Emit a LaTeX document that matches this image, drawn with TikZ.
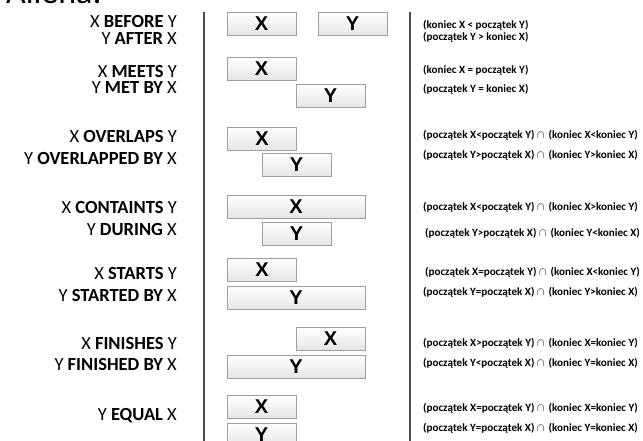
\documentclass[tikz,border=0pt]{standalone}
\usepackage{fontspec}
\setmainfont{Carlito}
\newfontfamily\boxfont{Liberation Sans}
\usepackage{tikz}
\usetikzlibrary{positioning}

\begin{document}
\begin{tikzpicture}[x=1pt, y=-1pt,
   ival/.style={draw=gray!75, line width=0.8pt, top color=white, bottom color=gray!20,
                minimum height=23pt, minimum width=69pt, inner sep=0pt,
                font=\boxfont\bfseries\fontsize{20}{20}\selectfont},
   wide/.style={minimum width=138pt},
   rel/.style={anchor=east, inner sep=0pt, font=\fontsize{18.5}{19}\selectfont},
   cond/.style={anchor=west, inner sep=0pt, font=\bfseries\fontsize{11.1}{12}\selectfont},
   sep/.style={draw=black!70, line width=2pt}]
   \useasboundingbox (0,0) rectangle (643,441);
   \clip (0,0) rectangle (643,441);
   \node[anchor=base west, inner sep=0pt, font=\fontsize{34}{34}\selectfont] (title) at (6,4) {Allena:};

   % separators
   \draw[sep] (204,12) -- (204,441);
   \draw[sep] (410,12) -- (410,441);

   % relation names
   \node[rel] (before)  at (177,21.5) {X \textbf{BEFORE} Y};
   \node[rel] (after)   at (177,38.5) {Y \textbf{AFTER} X};
   \node[rel] (meets)   at (177,71)  {X \textbf{MEETS} Y};
   \node[rel] (metby)   at (177,88)  {Y \textbf{MET BY} X};
   \node[rel] (overl)   at (177,136) {X \textbf{OVERLAPS} Y};
   \node[rel] (overlby) at (177,158) {Y \textbf{OVERLAPPED BY} X};
   \node[rel] (contain) at (177,207) {X \textbf{CONTAINTS} Y};
   \node[rel] (during)  at (177,230) {Y \textbf{DURING} X};
   \node[rel] (starts)  at (177,273) {X \textbf{STARTS} Y};
   \node[rel] (startby) at (177,295) {Y \textbf{STARTED BY} X};
   \node[rel] (finish)  at (177,343) {X \textbf{FINISHES} Y};
   \node[rel] (finby)   at (177,364) {Y \textbf{FINISHED BY} X};
   \node[rel] (equal)   at (177,416) {Y \textbf{EQUAL} X};

   % intervals
   \node[ival] (bX) at (261.5,23.5) {X};
   \node[ival] (bY) at (352.5,23.5) {Y};
   \node[ival] (mX) at (261.5,69)   {X};
   \node[ival] (mY) at (330.5,95.5) {Y};
   \node[ival] (oX) at (262,138.5)  {X};
   \node[ival] (oY) at (296.5,165)  {Y};
   \node[ival, wide] (cX) at (296,206.5) {X};
   \node[ival] (cY) at (296.5,233.5) {Y};
   \node[ival] (sX) at (262,270)    {X};
   \node[ival, wide] (sY) at (296,297.5) {Y};
   \node[ival] (fX) at (330.5,339)  {X};
   \node[ival, wide] (fY) at (296,366.5) {Y};
   \node[ival] (eX) at (261.5,407)  {X};
   \node[ival] (eY) at (261.5,434.5) {Y};

   % conditions
   \node[cond] (c1)  at (423,25)  {(koniec X < początek Y)};
   \node[cond] (c2)  at (423,37)  {(początek Y > koniec X)};
   \node[cond] (c3)  at (423,70)  {(koniec X = początek Y)};
   \node[cond] (c4)  at (423,89)  {(początek Y = koniec X)};
   \node[cond] (c5)  at (423,135) {(początek X<początek Y) $\cap$\, (koniec X<koniec Y)};
   \node[cond] (c6)  at (423,155) {(początek Y>początek X) $\cap$\, (koniec Y>koniec X)};
   \node[cond] (c7)  at (423,207) {(początek X<początek Y) $\cap$\, (koniec X>koniec Y)};
   \node[cond] (c8)  at (425,233) {(początek Y>początek X) $\cap$\, (koniec Y<koniec X)};
   \node[cond] (c9)  at (425,272) {(początek X=początek Y) $\cap$\, (koniec X<koniec Y)};
   \node[cond] (c10) at (423,292) {(początek Y=początek X) $\cap$\, (koniec Y>koniec X)};
   \node[cond] (c11) at (423,343) {(początek X>początek Y) $\cap$\, (koniec X=koniec Y)};
   \node[cond] (c12) at (423,363) {(początek Y<początek X) $\cap$\, (koniec Y=koniec X)};
   \node[cond] (c13) at (423,408) {(początek X=początek Y) $\cap$\, (koniec X=koniec Y)};
   \node[cond] (c14) at (423,428) {(początek Y=początek X) $\cap$\, (koniec Y=koniec X)};
\end{tikzpicture}
\end{document}
